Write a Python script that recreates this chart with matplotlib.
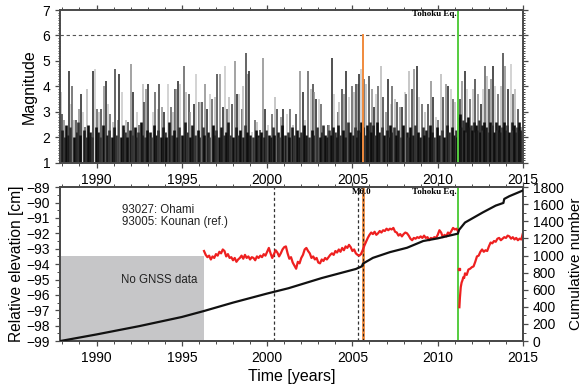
import numpy as np
import matplotlib.pyplot as plt
from matplotlib.ticker import MultipleLocator

plt.rcParams['font.family'] = ['Liberation Sans', 'DejaVu Sans']

# larger earthquakes (time [yr], magnitude)
big_events = [
    (1987.89, 3.8), (1988.00, 2.9), (1988.12, 2.7), (1988.41, 4.6), (1988.50, 3.3), (1988.59, 4.0),
    (1988.70, 2.7), (1988.80, 2.7), (1988.96, 3.1), (1989.10, 3.7), (1989.19, 3.0), (1989.33, 2.4),
    (1989.45, 3.9), (1989.58, 2.0), (1989.68, 2.0), (1989.82, 4.6), (1989.91, 4.7), (1990.03, 3.1),
    (1990.17, 3.0), (1990.27, 3.1), (1990.46, 4.0), (1990.56, 4.2), (1990.66, 3.3), (1990.79, 2.9),
    (1990.95, 2.6), (1991.08, 4.7), (1991.24, 2.7), (1991.34, 4.5), (1991.47, 3.8), (1991.63, 2.3),
    (1991.73, 2.7), (1991.86, 2.6), (1992.02, 4.9), (1992.14, 3.8), (1992.37, 3.0), (1992.50, 2.5),
    (1992.70, 4.1), (1992.80, 3.4), (1992.90, 3.9), (1993.03, 4.1), (1993.29, 3.0), (1993.42, 3.8),
    (1993.58, 3.1), (1993.68, 4.1), (1993.81, 3.2), (1993.93, 3.0), (1994.16, 4.1), (1994.36, 3.2),
    (1994.46, 3.0), (1994.59, 3.9), (1994.66, 3.9), (1994.75, 4.2), (1994.91, 4.1), (1995.10, 4.8),
    (1995.26, 3.8), (1995.40, 3.7), (1995.49, 3.0), (1995.69, 3.3), (1995.85, 4.5), (1995.98, 3.4),
    (1996.08, 3.4), (1996.18, 3.4), (1996.37, 4.1), (1996.47, 3.1), (1996.66, 3.7), (1996.76, 3.5),
    (1996.96, 3.6), (1997.09, 4.5), (1997.25, 4.5), (1997.40, 3.2), (1997.54, 4.8), (1997.64, 3.1),
    (1997.79, 3.6), (1997.93, 3.3), (1998.09, 5.0), (1998.22, 3.7), (1998.36, 3.7), (1998.52, 3.1),
    (1998.61, 4.0), (1998.75, 5.3), (1998.85, 4.5), (1998.94, 4.6), (1999.10, 2.2), (1999.26, 2.7),
    (1999.39, 2.6), (1999.59, 2.3), (1999.74, 5.1), (1999.88, 3.1), (2000.07, 2.5), (2000.27, 2.9),
    (2000.46, 3.6), (2000.56, 3.1), (2000.80, 2.8), (2000.95, 3.1), (2001.15, 2.9), (2001.34, 3.1),
    (2001.53, 2.5), (2001.69, 2.9), (2001.92, 4.6), (2002.08, 3.8), (2002.22, 2.7), (2002.41, 4.6),
    (2002.57, 3.9), (2002.66, 4.1), (2002.76, 3.8), (2002.86, 3.5), (2003.02, 3.5), (2003.15, 3.3),
    (2003.35, 2.4), (2003.54, 2.5), (2003.64, 2.5), (2003.80, 5.1), (2003.93, 3.7), (2004.13, 3.0),
    (2004.22, 3.4), (2004.38, 3.9), (2004.52, 3.7), (2004.65, 4.6), (2004.81, 3.6), (2004.96, 4.0),
    (2005.10, 3.8), (2005.20, 4.1), (2005.30, 4.1), (2005.39, 4.5), (2005.49, 4.7), (2005.69, 4.3),
    (2005.78, 4.1), (2005.98, 4.4), (2006.13, 3.9), (2006.27, 3.2), (2006.41, 3.7), (2006.52, 4.0),
    (2006.66, 4.8), (2006.80, 3.6), (2006.95, 3.0), (2007.07, 4.3), (2007.25, 3.3), (2007.34, 4.0),
    (2007.50, 3.5), (2007.63, 3.4), (2007.77, 3.2), (2007.93, 3.2), (2008.08, 3.8), (2008.14, 3.7),
    (2008.31, 4.6), (2008.47, 3.9), (2008.63, 4.7), (2008.76, 4.8), (2008.90, 3.6), (2009.05, 3.3),
    (2009.25, 3.0), (2009.44, 3.3), (2009.60, 4.2), (2009.74, 3.6), (2009.87, 2.8), (2010.03, 2.7),
    (2010.17, 4.5), (2010.32, 3.6), (2010.46, 4.1), (2010.61, 4.0), (2010.77, 3.9), (2010.87, 3.5),
    (2011.00, 3.4), (2011.30, 3.5), (2011.43, 4.2), (2011.59, 4.6), (2011.74, 3.9), (2011.88, 3.5),
    (2012.08, 3.9), (2012.21, 4.3), (2012.37, 3.7), (2012.52, 3.3), (2012.66, 3.9), (2012.76, 4.8),
    (2012.88, 4.4), (2013.00, 3.9), (2013.11, 4.3), (2013.25, 4.8), (2013.38, 4.0), (2013.54, 3.7),
    (2013.69, 4.0), (2013.83, 5.3), (2013.97, 4.8), (2014.12, 3.9), (2014.28, 4.9), (2014.42, 3.7),
    (2014.55, 3.9), (2014.71, 3.1), (2014.90, 2.4),
]

# small earthquakes forming the dense dark band at the bottom
small_events = [
    (1987.95, 2.3), (1988.08, 2.0), (1988.21, 2.5), (1988.33, 2.1), (1988.47, 2.4), (1988.66, 2.0),
    (1988.85, 2.2), (1988.92, 2.6), (1989.05, 2.1), (1989.25, 2.3), (1989.38, 2.0), (1989.52, 2.5),
    (1989.63, 2.2), (1989.75, 2.0), (1989.97, 2.4), (1990.10, 2.2), (1990.22, 2.0), (1990.35, 2.5),
    (1990.61, 2.1), (1990.72, 2.3), (1990.88, 2.0), (1991.02, 2.4), (1991.16, 2.1), (1991.41, 2.0),
    (1991.55, 2.5), (1991.68, 2.2), (1991.80, 2.0), (1991.95, 2.3), (1992.08, 2.1), (1992.25, 2.4),
    (1992.31, 2.0), (1992.44, 2.2), (1992.58, 2.6), (1992.64, 2.1), (1992.84, 2.0), (1992.97, 2.3),
    (1993.12, 2.2), (1993.22, 2.0), (1993.35, 2.5), (1993.50, 2.1), (1993.62, 2.3), (1993.75, 2.0),
    (1993.88, 2.4), (1994.02, 2.2), (1994.09, 2.0), (1994.26, 2.6), (1994.41, 2.1), (1994.52, 2.3),
    (1994.70, 2.0), (1994.84, 2.4), (1995.00, 2.1), (1995.16, 2.6), (1995.32, 2.2), (1995.45, 2.0),
    (1995.58, 2.5), (1995.77, 2.1), (1995.92, 2.3), (1996.02, 2.0), (1996.24, 2.4), (1996.30, 2.1),
    (1996.55, 2.2), (1996.60, 2.0), (1996.85, 2.5), (1996.92, 2.1), (1997.03, 2.3), (1997.16, 2.0),
    (1997.32, 2.4), (1997.47, 2.1), (1997.58, 2.2), (1997.70, 2.6), (1997.85, 2.1), (1998.02, 2.0),
    (1998.15, 2.4), (1998.28, 2.1), (1998.43, 2.3), (1998.57, 2.0), (1998.68, 2.5), (1998.81, 2.2),
    (1999.02, 2.1), (1999.16, 2.0), (1999.32, 2.3), (1999.47, 2.1), (1999.53, 2.0), (1999.66, 2.2),
    (1999.81, 2.0), (1999.95, 2.3), (2000.13, 2.1), (2000.20, 2.0), (2000.34, 2.4), (2000.41, 2.1),
    (2000.62, 2.2), (2000.71, 2.0), (2000.88, 2.5), (2001.05, 2.1), (2001.21, 2.2), (2001.28, 2.0),
    (2001.44, 2.4), (2001.60, 2.1), (2001.76, 2.3), (2001.85, 2.0), (2002.00, 2.2), (2002.14, 2.5),
    (2002.30, 2.1), (2002.48, 2.0), (2002.62, 2.3), (2002.71, 2.1), (2002.93, 2.4), (2003.08, 2.0),
    (2003.22, 2.2), (2003.29, 2.5), (2003.42, 2.1), (2003.48, 2.0), (2003.60, 2.3), (2003.72, 2.1),
    (2003.88, 2.4), (2004.00, 2.2), (2004.08, 2.0), (2004.18, 2.5), (2004.30, 2.1), (2004.45, 2.3),
    (2004.58, 2.0), (2004.72, 2.6), (2004.88, 2.2), (2005.02, 2.1), (2005.15, 2.4), (2005.25, 2.0),
    (2005.35, 2.3), (2005.44, 2.2), (2005.53, 2.6), (2005.64, 2.4), (2005.74, 2.1), (2005.83, 2.5),
    (2005.90, 2.3), (2006.04, 2.6), (2006.09, 2.2), (2006.20, 2.5), (2006.32, 2.1), (2006.46, 2.6),
    (2006.58, 2.2), (2006.72, 2.4), (2006.87, 2.1), (2007.01, 2.3), (2007.15, 2.0), (2007.20, 2.5),
    (2007.29, 2.2), (2007.44, 2.4), (2007.56, 2.1), (2007.69, 2.3), (2007.84, 2.0), (2007.98, 2.5),
    (2008.20, 2.2), (2008.25, 2.0), (2008.38, 2.4), (2008.53, 2.1), (2008.69, 2.5), (2008.84, 2.2),
    (2008.97, 2.0), (2009.12, 2.4), (2009.18, 2.1), (2009.33, 2.3), (2009.50, 2.0), (2009.55, 2.5),
    (2009.67, 2.2), (2009.80, 2.0), (2009.93, 2.4), (2010.09, 2.1), (2010.24, 2.3), (2010.39, 2.0),
    (2010.52, 2.5), (2010.68, 2.2), (2010.82, 2.4), (2010.93, 2.1), (2011.06, 2.3), (2011.12, 2.0),
    (2011.22, 2.8), (2011.26, 2.5), (2011.33, 2.9), (2011.37, 2.4), (2011.48, 2.7), (2011.52, 2.3),
    (2011.63, 2.6), (2011.68, 2.2), (2011.79, 2.8), (2011.84, 2.4), (2011.93, 2.5), (2012.01, 2.3),
    (2012.13, 2.6), (2012.17, 2.2), (2012.27, 2.5), (2012.32, 2.3), (2012.43, 2.7), (2012.48, 2.2),
    (2012.57, 2.5), (2012.62, 2.3), (2012.71, 2.6), (2012.82, 2.4), (2012.94, 2.2), (2013.05, 2.6),
    (2013.16, 2.3), (2013.20, 2.5), (2013.31, 2.2), (2013.44, 2.6), (2013.49, 2.3), (2013.61, 2.5),
    (2013.65, 2.2), (2013.76, 2.4), (2013.90, 2.6), (2014.03, 2.3), (2014.07, 2.5), (2014.18, 2.2),
    (2014.34, 2.6), (2014.38, 2.3), (2014.49, 2.5), (2014.60, 2.2), (2014.66, 2.4), (2014.77, 2.6),
    (2014.83, 2.3), (2014.95, 2.2),
]

# cumulative number of earthquakes
cum_t = [1987.85, 1990.0, 1992.5, 1995.0, 1996.3, 1998.0, 2000.0, 2001.25, 2003.2, 2005.2, 2005.55,
         2005.62, 2006.2, 2007.2, 2008.2, 2009.15, 2010.0, 2011.18, 2011.25, 2011.6, 2012.65, 2013.4,
         2013.85, 2013.9, 2014.2, 2015.0]
cum_n = [0, 78, 175, 282, 352, 450, 556, 618, 737, 843, 874, 906, 973, 1040, 1091, 1170, 1201, 1256,
         1300, 1386, 1505, 1584, 1615, 1662, 1694, 1761]

# GNSS relative elevation [cm] (93027 Ohami - 93005 Kounan), before the Tohoku earthquake
gnss_pre = [
    (1996.3, -93.15), (1996.4, -93.4), (1996.5, -93.55), (1996.6, -93.45), (1996.7, -93.7),
    (1996.8, -93.5), (1996.9, -93.6), (1997.0, -93.35), (1997.1, -93.45), (1997.2, -93.2),
    (1997.3, -93.3), (1997.4, -93.05), (1997.5, -93.15), (1997.6, -93.5), (1997.7, -93.35),
    (1997.8, -93.6), (1997.9, -93.55), (1998.0, -93.75), (1998.1, -93.6), (1998.2, -93.85),
    (1998.3, -93.7), (1998.4, -93.6), (1998.5, -93.45), (1998.6, -93.65), (1998.7, -93.4),
    (1998.8, -93.6), (1998.9, -93.5), (1999.0, -93.7), (1999.1, -93.55), (1999.2, -93.6),
    (1999.3, -93.75), (1999.4, -93.5), (1999.5, -93.6), (1999.6, -93.45), (1999.7, -93.55),
    (1999.8, -93.35), (1999.9, -93.45), (2000.0, -93.2), (2000.1, -92.95), (2000.2, -93.3),
    (2000.3, -93.6), (2000.4, -93.35), (2000.5, -93.1), (2000.6, -93.25), (2000.7, -93.5),
    (2000.8, -93.3), (2000.9, -93.05), (2001.0, -92.9), (2001.1, -92.85), (2001.2, -93.3),
    (2001.3, -93.65), (2001.4, -93.55), (2001.5, -93.9), (2001.6, -94.1), (2001.7, -94.3),
    (2001.8, -93.85), (2001.9, -93.95), (2002.0, -93.6), (2002.1, -93.4), (2002.2, -93.05),
    (2002.3, -92.95), (2002.4, -93.15), (2002.5, -93.3), (2002.6, -93.6), (2002.7, -93.5),
    (2002.8, -93.7), (2002.9, -93.6), (2003.0, -93.9), (2003.1, -93.95), (2003.2, -93.7),
    (2003.3, -93.8), (2003.4, -93.6), (2003.5, -93.7), (2003.6, -93.55), (2003.7, -93.4),
    (2003.8, -93.3), (2003.9, -93.4), (2004.0, -93.15), (2004.1, -93.25), (2004.2, -93.05),
    (2004.3, -93.2), (2004.4, -92.95), (2004.5, -93.1), (2004.6, -92.85), (2004.7, -92.95),
    (2004.8, -92.75), (2004.9, -92.9), (2005.0, -93.15), (2005.1, -93.05), (2005.2, -93.3),
    (2005.3, -93.4), (2005.4, -93.45), (2005.5, -93.35), (2005.6, -93.1), (2005.7, -92.8),
    (2005.8, -92.55), (2005.9, -92.3), (2006.0, -92.1), (2006.1, -91.95), (2006.2, -92.05),
    (2006.3, -91.9), (2006.4, -92.1), (2006.5, -92.0), (2006.6, -91.85), (2006.7, -91.95),
    (2006.8, -91.8), (2006.9, -91.85), (2007.0, -91.7), (2007.1, -91.8), (2007.2, -91.7),
    (2007.3, -91.75), (2007.4, -91.65), (2007.5, -91.9), (2007.6, -91.95), (2007.7, -92.15),
    (2007.8, -92.05), (2007.9, -92.2), (2008.0, -92.05), (2008.1, -91.95), (2008.2, -92.0),
    (2008.3, -92.15), (2008.4, -92.35), (2008.5, -92.45), (2008.6, -92.3), (2008.7, -92.35),
    (2008.8, -92.25), (2008.9, -92.3), (2009.0, -92.2), (2009.1, -92.3), (2009.2, -92.15),
    (2009.3, -92.3), (2009.4, -92.25), (2009.5, -92.45), (2009.6, -92.3), (2009.7, -92.35),
    (2009.8, -92.25), (2009.9, -92.3), (2010.0, -92.1), (2010.1, -91.8), (2010.2, -91.95),
    (2010.3, -92.25), (2010.4, -92.1), (2010.5, -92.2), (2010.6, -91.95), (2010.7, -92.05),
    (2010.8, -91.85), (2010.9, -91.65), (2011.0, -91.75), (2011.1, -91.7), (2011.18, -91.85),
]
# after the Tohoku earthquake
gnss_post = [
    (2011.27, -96.8), (2011.3, -96.2), (2011.35, -95.5), (2011.4, -95.2), (2011.45, -95.05),
    (2011.5, -94.85), (2011.55, -94.9), (2011.6, -94.6), (2011.7, -94.7), (2011.8, -94.35),
    (2011.9, -94.3), (2012.0, -94.2), (2012.1, -94.15), (2012.2, -93.85), (2012.3, -93.5),
    (2012.4, -93.45), (2012.5, -93.2), (2012.6, -93.05), (2012.7, -93.2), (2012.8, -93.1),
    (2012.9, -93.15), (2013.0, -92.85), (2013.1, -92.6), (2013.2, -92.65), (2013.3, -92.5),
    (2013.4, -92.55), (2013.5, -92.35), (2013.6, -92.3), (2013.7, -92.45), (2013.8, -92.35),
    (2013.9, -92.25), (2014.0, -92.3), (2014.1, -92.15), (2014.2, -92.2), (2014.3, -92.35),
    (2014.4, -92.25), (2014.5, -92.4), (2014.6, -92.3), (2014.7, -92.45), (2014.8, -92.35),
    (2014.9, -92.4), (2014.98, -92.05),
]
gnss_jump_t = [2011.22]
gnss_jump_z = [-94.3]

ev_no_gnss = 1996.3
ev_dashed = [2000.42, 2005.32]
ev_m6 = 2005.6
ev_tohoku = 2011.2

spine_col = '#4a4a4a'
orange = '#f08a3c'
green = '#55cc3f'
red = '#ee2020'


def style_axis(ax):
    for s in ax.spines.values():
        s.set_color(spine_col)
        s.set_linewidth(1.4)
    ax.tick_params(which='both', direction='out', color=spine_col, labelsize=10, top=True, right=True)
    ax.tick_params(which='major', length=3.5, width=0.9)
    ax.tick_params(which='minor', length=2.0, width=0.7)


fig = plt.figure(figsize=(5.87, 3.85), dpi=100)
ax1 = fig.add_axes([0.102, 0.577, 0.789, 0.397])
ax2 = fig.add_axes([0.102, 0.114, 0.789, 0.400])

# --- top: magnitudes
bt, bm = zip(*big_events)
st, sm = zip(*small_events)
greys = ['#b8b8b8', '#3a3a3a', '#8a8a8a', '#202020', '#c8c8c8', '#5a5a5a']
ax1.vlines(bt, 1, bm, colors=greys, linewidth=1.1)
ax1.vlines(st, 1, sm, colors=['#1a1a1a', '#333333', '#0e0e0e'], linewidth=1.9)
ax1.axhline(6, color='#555555', ls=(0, (3, 2.5)), lw=0.8)
ax1.plot([ev_m6, ev_m6], [1, 6], color=orange, lw=1.4)
ax1.plot([ev_tohoku, ev_tohoku], [1, 7], color=green, lw=1.4)
ax1.text(ev_tohoku - 0.1, 6.83, 'Tohoku Eq.', ha='right', va='center', fontsize=6.5,
         fontweight='bold', family=['Liberation Serif', 'DejaVu Serif'])
ax1.set_xlim(1987.85, 2015)
ax1.set_ylim(1, 7)
ax1.set_ylabel('Magnitude', fontsize=11.5, labelpad=4)
ax1.xaxis.set_major_locator(MultipleLocator(5))
ax1.xaxis.set_minor_locator(MultipleLocator(1))
ax1.yaxis.set_major_locator(MultipleLocator(1))
ax1.yaxis.set_minor_locator(MultipleLocator(0.1))
style_axis(ax1)
ax1.tick_params(axis='y', which='minor', length=1.5)

# --- bottom: GNSS elevation and cumulative number
ax2.axvspan(1987.85, ev_no_gnss, ymin=0, ymax=(99 - 93.45) / 10, color='#c6c6c8', lw=0, zorder=0)
ax2.text(1993.7, -95.0, 'No GNSS data', ha='center', va='center', fontsize=8.3, color='#222222')
ax2.text(1991.5, -90.85, '93027: Ohami\n93005: Kounan (ref.)', ha='left', va='center', fontsize=8.3,
         color='#222222', linespacing=1.0)
for xv in ev_dashed:
    ax2.axvline(xv, color='#333333', ls=(0, (2.5, 2)), lw=0.9)
ax2.axvline(ev_m6, color=orange, lw=2.0)
ax2.axvline(ev_m6, color='#222222', ls=(0, (2.5, 2)), lw=0.8)
ax2.axvline(ev_tohoku, color=green, lw=1.4)
pt, pz = zip(*gnss_pre)
qt, qz = zip(*gnss_post)
ax2.plot(pt, pz, color=red, lw=1.6, zorder=3)
ax2.plot(qt, qz, color=red, lw=1.6, zorder=3)
ax2.plot(gnss_jump_t, gnss_jump_z, 's', color=red, ms=1.5, zorder=3)
ax2.text(ev_m6 - 0.05, -89.3, 'M6.0', ha='center', va='center', fontsize=6.5, fontweight='bold',
         family=['Liberation Serif', 'DejaVu Serif'])
ax2.text(ev_tohoku - 0.1, -89.3, 'Tohoku Eq.', ha='right', va='center', fontsize=6.5,
         fontweight='bold', family=['Liberation Serif', 'DejaVu Serif'])
ax2.set_xlim(1987.85, 2015)
ax2.set_ylim(-99, -89)
ax2.xaxis.set_major_locator(MultipleLocator(5))
ax2.xaxis.set_minor_locator(MultipleLocator(1))
ax2.yaxis.set_minor_locator(MultipleLocator(0.5))
ax2.set_yticks(np.arange(-99, -88))
ax2.set_yticklabels(['\u2212%d' % abs(v) for v in range(-99, -88)])
ax2.set_ylabel('Relative elevation [cm]', fontsize=11.2, labelpad=2)
ax2.set_xlabel('Time [years]', fontsize=11.5, labelpad=3)
style_axis(ax2)

ax3 = ax2.twinx()
ax3.plot(cum_t, cum_n, color='#111111', lw=1.6, zorder=4)
ax3.set_ylim(0, 1800)
ax3.yaxis.set_major_locator(MultipleLocator(200))
ax3.yaxis.set_minor_locator(MultipleLocator(100))
ax3.set_ylabel('Cumulative number', fontsize=11, labelpad=4)
style_axis(ax3)
ax3.tick_params(left=False, labelleft=False, top=False)

fig.savefig('out.png', dpi=100)
